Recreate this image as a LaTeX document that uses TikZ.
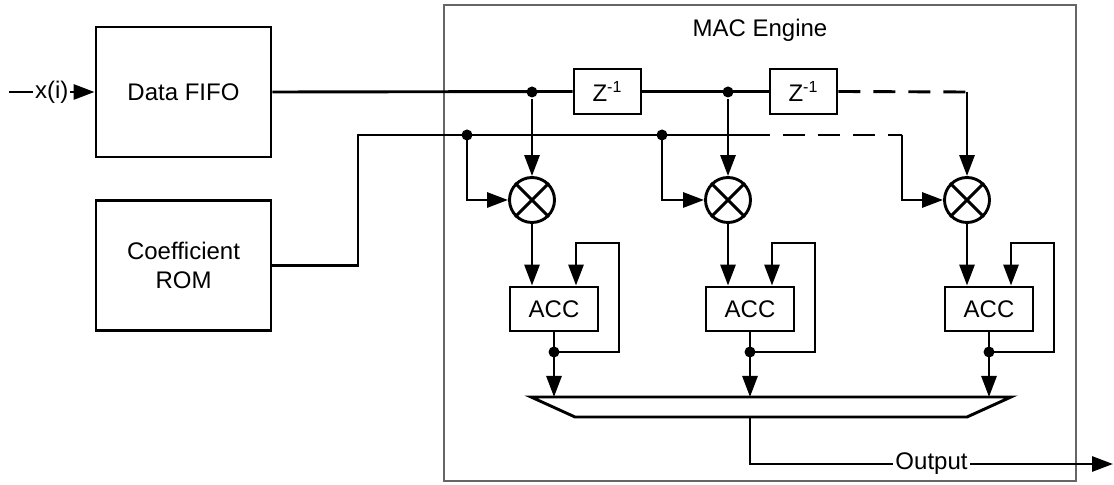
\documentclass[tikz,border=0pt]{standalone}
\usepackage{fontspec}
\setmainfont{Liberation Sans}
\usetikzlibrary{arrows.meta}

\begin{document}
\begin{tikzpicture}[x=0.5pt,y=-0.5pt,line width=1.45pt,
  every node/.style={font=\fontsize{12}{14.5}\selectfont},
  blk/.style={draw, minimum width=87.5pt, minimum height=65pt, align=center},
  zbox/.style={draw, minimum width=33.5pt, minimum height=22.5pt, inner sep=0pt, font=\fontsize{12}{13}\selectfont},
  mult/.style={draw, circle, minimum size=22.5pt, inner sep=0pt},
  accbox/.style={draw, minimum width=44pt, minimum height=22pt, inner sep=0pt},
  jn/.style={circle, fill, inner sep=0pt, minimum size=5.5pt},
  arr/.style={-{Triangle[length=10.5pt,width=7.5pt]}},
  dsh/.style={dash pattern=on 11pt off 6.5pt},
  lbl/.style={fill=white, inner sep=1pt}]
\useasboundingbox (0,0) rectangle (1114,485);

% MAC engine frame
\draw[gray!80!black, line width=0.7pt] (444,5) rectangle (1076,481);
\node (mac) at (760,30) {MAC Engine};

\node[blk] (fifo) at (183.5,92) {Data FIFO};
\node[blk] (rom) at (183.5,265.5) {Coefficient\\ROM};

\coordinate (xin) at (9,92);
\draw[arr] (xin) -- node[lbl]{x(i)} (fifo.west);

% delay line
\node[zbox] (z1) at (607.5,91.5) {Z\textsuperscript{-1}};
\node[zbox] (z2) at (803.5,91.5) {Z\textsuperscript{-1}};

% mux
\coordinate (mtl) at (531,397);
\coordinate (mtr) at (1011,397);
\coordinate (mbr) at (967,417);
\coordinate (mbl) at (575,417);
\draw (mtl) -- (mtr) -- (mbr) -- (mbl) -- cycle;

% taps
\foreach \n/\x in {1/532,2/728,3/967} {
  \node[mult] (m\n) at (\x,200) {};
  \draw (m\n.north west) -- (m\n.south east) (m\n.north east) -- (m\n.south west);
  \node[accbox] (acc\n) at (\x+22,309) {ACC};
  \coordinate (fb\n) at (\x+44,243);
  \draw[arr] (m\n.south) -- (m\n.south |- acc\n.north);
  \draw[arr] (acc\n.south) -- (acc\n.south |- mtl);
  \node[jn] (t\n) at (acc\n.south |- 0,352) {};
  \draw[arr] (t\n.center) -- ++(65,0) |- (fb\n) -- (fb\n |- acc\n.north);
}

% data path
\draw (fifo.east) -- (z1.west);
\draw (z1.east) -- (z2.west);
\coordinate (dend) at (967,92);
\draw[dsh] (z2.east) -- (dend);
\draw[arr] (dend) -- (m3.north);
\node[jn] (d1) at (m1.north |- fifo.east) {};
\node[jn] (d2) at (m2.north |- fifo.east) {};
\draw[arr] (d1) -- (m1.north);
\draw[arr] (d2) -- (m2.north);

% coefficient path
\coordinate (cbend) at (358,135);
\coordinate (cdash) at (770,135);
\coordinate (cend) at (902,135);
\draw (rom.east) -| (cbend) -- (cdash);
\draw[dsh, dash phase=11pt] (cdash) -- (cend);
\draw[arr] (cend) |- (m3.west);
\node[jn] (c1) at (467,135) {};
\node[jn] (c2) at (662,135) {};
\draw[arr] (c1.center) |- (m1.west);
\draw[arr] (c2.center) |- (m2.west);

% output
\coordinate (mout) at (750,417);
\coordinate (oend) at (1113,464);
\draw[arr] (mout) |- node[lbl, pos=0.75]{Output} (oend);
\end{tikzpicture}
\end{document}
